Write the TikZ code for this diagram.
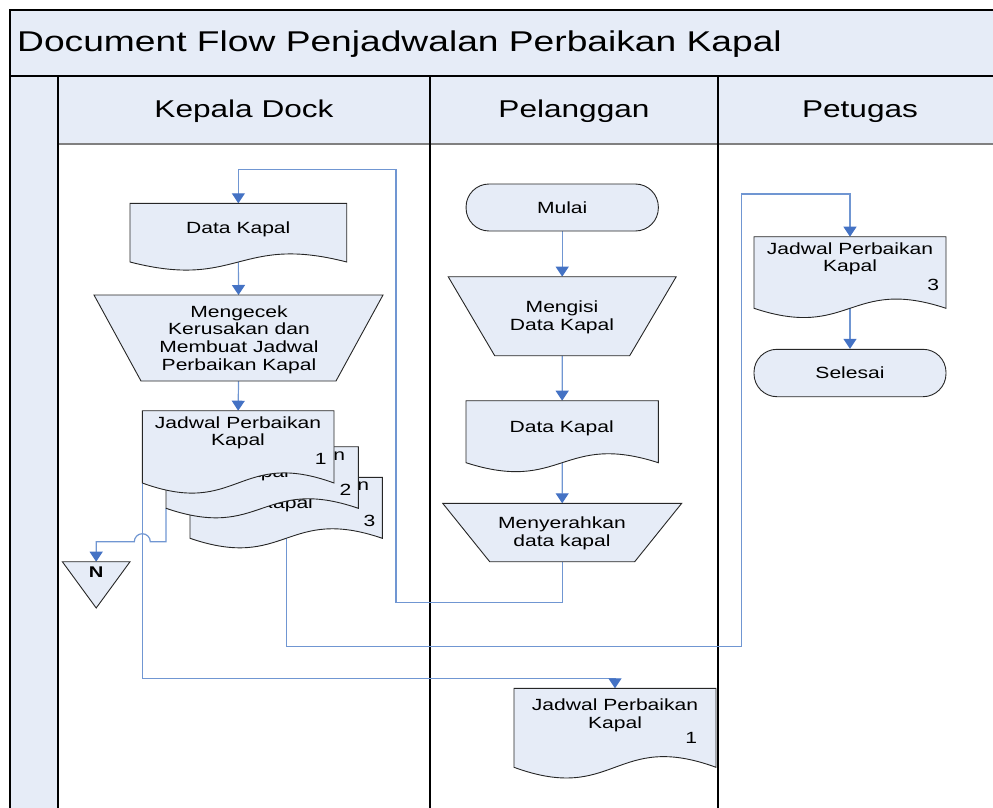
\documentclass[tikz,border=0pt]{standalone}
\usepackage{fontspec}
\setmainfont{Liberation Sans}[FakeStretch=1.3]
\usetikzlibrary{calc,arrows.meta}
\definecolor{boxfill}{HTML}{E6ECF7}
\definecolor{conncol}{HTML}{7096D2}
\definecolor{tipcol}{HTML}{4472C4}
\definecolor{edgecol}{HTML}{262626}
\pgfdeclarelayer{bg}
\pgfdeclarelayer{conn}
\pgfsetlayers{bg,conn,main}
\tikzset{
  shp/.style={fill=boxfill, draw=edgecol, line width=0.9pt},
  anchorbox/.style={inner sep=0pt, outer sep=0pt, draw=none, shape=rectangle},
  ntext/.style={inner sep=0pt, align=center, font=\fontsize{16.2}{17.6}\selectfont},
  conn/.style={draw=conncol, line width=1.2pt},
  arr/.style={conn, -{Triangle[width=13pt,length=10pt,color=tipcol]}},
  term/.style={shp, rounded corners=23pt, inner sep=0pt, font=\fontsize{16.2}{17.6}\selectfont},
  frameline/.style={draw=black, line width=1.3pt},
  headtext/.style={inner sep=0pt, anchor=base, font=\fontsize{24.3}{26}\selectfont},
}
\newcommand\docshape[6]{%
  \node[anchorbox, minimum width=#4pt, minimum height=#5pt, anchor=north west] (#1) at (#2,#3) {};
  \draw[shp] (#1.north west) -- (#1.north east) -- (#1.south east)
    .. controls ($(#1.south)+(0,-#6)$) and ($(#1.south)+(0,#6)$) .. (#1.south west) -- cycle;
}
\newcommand\trapshape[6]{%
  \node[anchorbox, minimum width=#4pt, minimum height=#6pt, anchor=north] (#1) at (#2,#3) {};
  \draw[shp] (#1.north west) -- (#1.north east) -- ($(#1.south east)+(-#5,0)$)
    -- ($(#1.south west)+(#5,0)$) -- cycle;
}
\begin{document}
\begin{tikzpicture}[x=1pt,y=-1pt]
\useasboundingbox (0,0) rectangle (993,808);
% ---------- frame ----------
\begin{pgfonlayer}{bg}
  \fill[boxfill] (10,10) rectangle (1002,76);
  \fill[boxfill] (58,76) rectangle (1002,144);
  \fill[boxfill] (10,76) rectangle (58,830);
  \draw[gray, line width=1.2pt] (58,144) -- (1002,144);
  \draw[frameline] (10,76) -- (1002,76);
  \draw[frameline] (58,76) -- (58,830);
  \draw[frameline] (430,76) -- (430,830);
  \draw[frameline] (718,76) -- (718,830);
  \draw[frameline] (10,830) -- (10,10) -- (1002,10) -- (1002,830);
\end{pgfonlayer}
\node[anchor=base west, inner sep=0pt, font=\fontsize{28.6}{30}\selectfont] (title) at (17,52) {Document Flow Penjadwalan Perbaikan Kapal};
\node[headtext] (h1) at (244,117) {Kepala Dock};
\node[headtext] (h2) at (574,117) {Pelanggan};
\node[headtext] (h3) at (860,117) {Petugas};
% ---------- Kepala Dock ----------
\docshape{dkk}{130}{203.3}{216.7}{58.7}{28}
\node[ntext, anchor=base] (dkkt) at (238.3,233.3) {Data Kapal};
\trapshape{cek}{238.5}{295}{289}{47}{86}
\node[ntext, anchor=base] (cekt) at (239,370) {Mengecek\\Kerusakan dan\\Membuat Jadwal\\Perbaikan Kapal};
\docshape{j3}{190}{477.3}{192.3}{61}{33}
\node[ntext, anchor=base] (j3t) at (286,508.3) {Jadwal Perbaikan\\Kapal};
\node[ntext, anchor=base east] (j3n) at (375.5,526.7) {3};
\docshape{j2}{166}{446.7}{192.3}{61.6}{33}
\node[ntext, anchor=base] (j2t) at (262,477.6) {Jadwal Perbaikan\\Kapal};
\node[ntext, anchor=base east] (j2n) at (351.5,495.7) {2};
\docshape{j1}{142.3}{410.7}{191.7}{72.3}{35}
\node[ntext, anchor=base] (j1t) at (238,445.7) {Jadwal Perbaikan\\Kapal};
\node[ntext, anchor=base east] (j1n) at (326.7,464.3) {1};
\node[anchorbox, minimum width=67.7pt, minimum height=46.3pt, anchor=north] (ntri) at (96.2,561.7) {};
\draw[shp] (ntri.north west) -- (ntri.north east) -- (ntri.south) -- cycle;
\node[inner sep=0pt, anchor=base, font=\fontsize{15.5}{17}\selectfont\bfseries] (ntrit) at (96.2,577.8) {N};
% ---------- Pelanggan ----------
\node[term, minimum width=192.3pt, minimum height=47pt] (mulai) at (562.2,207.5) {Mulai};
\trapshape{isi}{562.2}{276.7}{228}{46.5}{79}
\node[ntext, anchor=base] (isit) at (562,330) {Mengisi\\Data Kapal};
\docshape{dkp}{466}{400.7}{192.3}{62}{31}
\node[ntext, anchor=base] (dkpt) at (561.7,432.7) {Data Kapal};
\trapshape{serah}{562.2}{503.3}{239}{47}{58.4}
\node[ntext, anchor=base] (seraht) at (562,546) {Menyerahkan\\data kapal};
\docshape{jb}{514}{688.3}{202}{79}{37}
\node[ntext, anchor=base] (jbt) at (615,728.3) {Jadwal Perbaikan\\Kapal};
\node[ntext, anchor=base east] (jbn) at (697.3,743.3) {1};
% ---------- Petugas ----------
\docshape{jp}{754}{236.7}{192}{71.6}{32}
\node[ntext, anchor=base] (jpt) at (850,271.7) {Jadwal Perbaikan\\Kapal};
\node[ntext, anchor=base east] (jpn) at (939.3,290) {3};
\node[term, minimum width=192pt, minimum height=47.4pt] (sel) at (850,373) {Selesai};
% ---------- connectors ----------
\coordinate (c1) at (396,602.7);
\coordinate (c2) at (396,169.3);
\coordinate (c3) at (142.3,678.3);
\coordinate (hopR) at (150.3,541.7);
\coordinate (c5) at (741.7,646.7);
\coordinate (c6) at (741.7,194);
\begin{pgfonlayer}{conn}
  \draw[arr] (mulai.south) -- (isi.north);
  \draw[arr] (isi.south) -- (dkp.north);
  \draw[arr] (dkp.south) -- (serah.north);
  \draw[arr] (serah.south) |- (c1) -- (c2) -| (dkk.north);
  \draw[arr] (dkk.south) -- (cek.north);
  \draw[arr] (cek.south) -- (j1.north);
  \draw[arr] (j1.south west) -- (c3) -| (jb.north);
  \draw[arr] (j2.south west) |- (hopR) arc[start angle=0, end angle=180, radius=8pt] -| (ntri.north);
  \draw[arr] (j3.south) |- (c5) -- (c6) -| (jp.north);
  \draw[arr] (jp.south) -- (sel.north);
\end{pgfonlayer}
\end{tikzpicture}
\end{document}
